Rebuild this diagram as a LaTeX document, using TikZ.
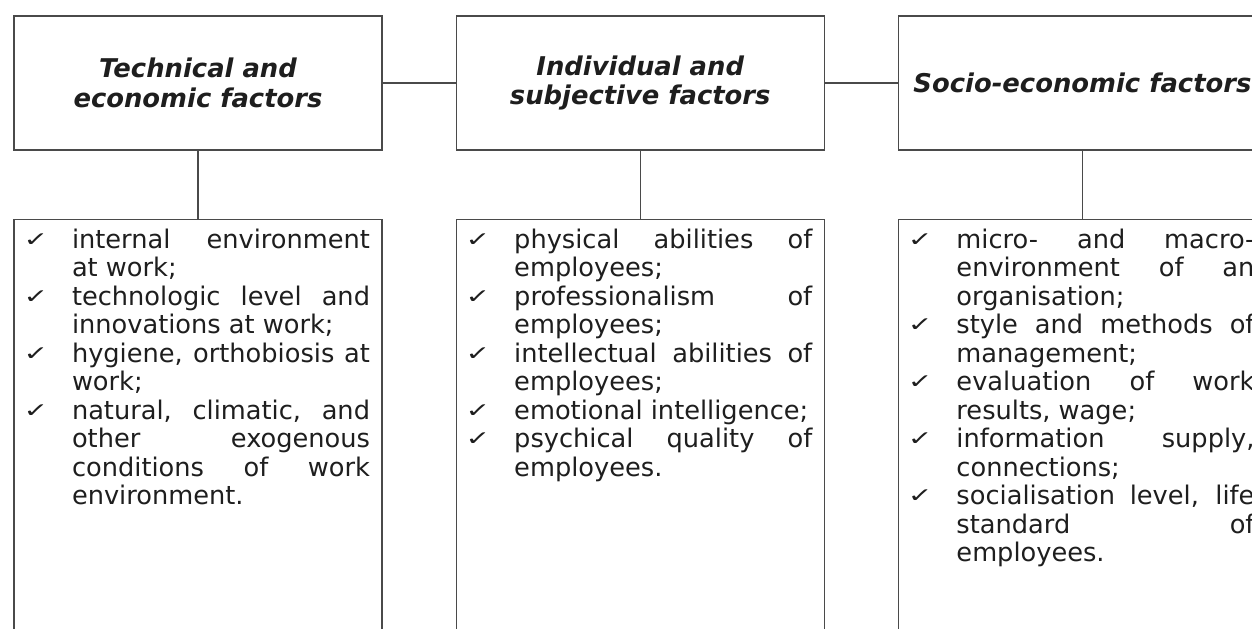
\documentclass[tikz,border=0pt]{standalone}
\usepackage{fontspec}
\usepackage{graphicx}
\setmainfont{DejaVu Sans}
\usetikzlibrary{positioning}
\definecolor{linha}{HTML}{4A4A4A}
\definecolor{texto}{HTML}{1E1E1E}
\tikzset{
  factor/.style={draw=linha, line width=0.7pt, minimum width=7.36cm, minimum height=2.68cm, align=center, text=texto, inner sep=0pt, font=\fontsize{14.7}{17}\selectfont\bfseries\itshape},
  checklist/.style={draw=linha, line width=0.7pt, inner xsep=0.24cm, inner ysep=5.5pt, text=texto, font=\fontsize{14.6}{16.2}\selectfont},
  link/.style={draw=linha, line width=0.7pt},
}
% one ticked entry, hanging indent for the wrapped lines
\newcommand{\chk}[1]{\par\noindent\hangindent=0.92cm\hangafter=1\makebox[0.92cm][l]{\hspace{-0.05cm}\raisebox{0.04cm}{\scalebox{1.05}[0.72]{\fontsize{16}{16}\selectfont ✓}}}#1}
\newcommand{\listbox}[1]{\parbox[t][9cm][t]{6.88cm}{\tolerance=10000\hbadness=10000\hyphenpenalty=10000\exhyphenpenalty=10000 #1}}

\begin{document}
\begin{tikzpicture}
  \useasboundingbox (0,0) rectangle (25.04,-12.56);
  \clip (0,0) rectangle (25.04,-12.56);
  \node[factor] (h1) at (3.96,-1.66) {Technical and\\economic factors};
  \node[factor, right=1.46cm of h1] (h2) {Individual and\\subjective factors};
  \node[factor, right=1.46cm of h2] (h3) {Socio-economic factors};
  \node[checklist, below=1.36cm of h1] (l1) {\listbox{%
    \chk{internal environment\linebreak at work;}
    \chk{technologic level and\linebreak innovations at work;}
    \chk{hygiene, orthobiosis at\linebreak work;}
    \chk{natural, climatic, and\linebreak other exogenous\linebreak conditions of work\linebreak environment.}}};
  \node[checklist, below=1.36cm of h2] (l2) {\listbox{%
    \chk{physical abilities of\linebreak employees;}
    \chk{professionalism of\linebreak employees;}
    \chk{intellectual abilities of\linebreak employees;}
    \chk{emotional intelligence;}
    \chk{psychical quality of\linebreak employees.}}};
  \node[checklist, below=1.36cm of h3] (l3) {\listbox{%
    \chk{micro- and macro-\linebreak environment of an\linebreak organisation;}
    \chk{style and methods of\linebreak management;}
    \chk{evaluation of work\linebreak results, wage;}
    \chk{information supply,\linebreak connections;}
    \chk{socialisation level, life\linebreak standard of\linebreak employees.}}};
  \draw[link] (h1) -- (h2);
  \draw[link] (h2) -- (h3);
  \foreach \a/\b in {h1/l1,h2/l2,h3/l3}
    \draw[link] (\a) -- (\b);
\end{tikzpicture}
\end{document}
